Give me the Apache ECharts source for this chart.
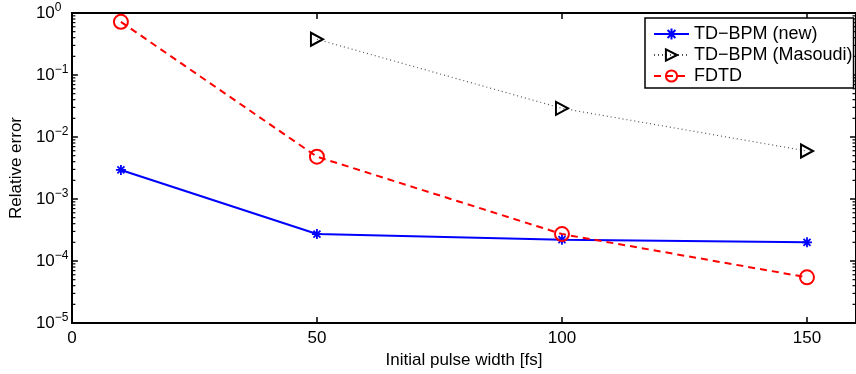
<!DOCTYPE html>
<html>
<head>
<meta charset="utf-8">
<script src="https://cdn.jsdelivr.net/npm/echarts@6/dist/echarts.min.js"></script>
<style>
  html, body { margin: 0; padding: 0; background: #fff; }
  #chart { width: 856px; height: 374px; }
</style>
</head>
<body>
<div id="chart"></div>
<script>
// values
const pulseWidths = [10, 50, 100, 150];
const tdbpmNew = [2.94e-3, 2.72e-4, 2.21e-4, 2.0e-4];
const masoudiWidths = [50, 100, 150];
const tdbpmMasoudi = [0.377, 0.029, 0.00594];
const fdtd = [0.72, 4.81e-3, 2.72e-4, 5.45e-5];
const xTicks = [0, 50, 100, 150];
const decades = [1e-5, 1e-4, 1e-3, 1e-2, 1e-1];
const minorMultipliers = [2, 3, 4, 5, 6, 7, 8, 9];

const FONT = "'Liberation Sans', Arial, Helvetica, sans-serif";
// minor ticks of the log axis (2..9 in every decade)
const minorTicks = [];
decades.forEach(d => minorMultipliers.forEach(m => minorTicks.push([0, d * m])));

const ASTERISK = "path://M5,0L5,10M0,5L10,5M1.5,1.5L8.5,8.5M1.5,8.5L8.5,1.5";
const blackLine = { onZero: false, lineStyle: { color: "#000", width: 2 } };
const tickStyle = { color: "#000", width: 1.5 };

function renderMinorTick(params, api) {
  const p = api.coord([0, api.value(1)]);
  const cs = params.coordSys;
  const len = 3.5;
  const style = { stroke: "#000", lineWidth: 1.2 };
  return {
    type: "group",
    children: [
      { type: "line", shape: { x1: cs.x, y1: p[1], x2: cs.x + len, y2: p[1] }, style },
      { type: "line", shape: { x1: cs.x + cs.width - len, y1: p[1], x2: cs.x + cs.width, y2: p[1] }, style }
    ]
  };
}

const chart = echarts.init(document.getElementById("chart"));
chart.setOption({
  animation: false,
  backgroundColor: "#fff",
  grid: { left: 71, top: 13, width: 787, height: 310 },
  legend: {
    orient: "vertical",
    left: 645,
    top: 18,
    itemWidth: 35,
    itemHeight: 14,
    itemGap: 3,
    padding: [7, 1, 3, 8],
    backgroundColor: "#fff",
    borderColor: "#000",
    borderWidth: 1.5,
    textStyle: { fontSize: 18, color: "#000", fontFamily: FONT },
    data: ["TD\u2212BPM (new)", "TD\u2212BPM (Masoudi)", "FDTD"]
  },
  xAxis: [
    {
      type: "value", min: 0, max: 160, interval: 50, position: "bottom",
      axisLine: blackLine,
      axisTick: { inside: true, length: 6, lineStyle: tickStyle, customValues: xTicks },
      axisLabel: { customValues: xTicks, color: "#000", fontSize: 17, margin: 7, fontFamily: FONT },
      splitLine: { show: false },
      name: "Initial pulse width [fs]", nameLocation: "middle", nameGap: 25,
      nameTextStyle: { fontSize: 17, color: "#000", fontFamily: FONT }
    },
    {
      type: "value", min: 0, max: 160, interval: 50, position: "top",
      axisLine: blackLine,
      axisTick: { inside: true, length: 6, lineStyle: tickStyle, customValues: xTicks },
      axisLabel: { show: false },
      splitLine: { show: false }
    }
  ],
  yAxis: [
    {
      type: "log", logBase: 10, min: 1e-5, max: 1, interval: 1, position: "left",
      axisLine: blackLine,
      axisTick: { inside: true, length: 6, lineStyle: tickStyle },
      axisLabel: {
        align: "left", margin: 36, color: "#000", fontFamily: FONT,
        formatter: v => "{b|10}{s|" + String(Math.round(Math.log10(v))).replace("-", "\u2212") + "}",
        rich: {
          b: { fontSize: 17, fontFamily: FONT, color: "#000" },
          s: { fontSize: 12, fontFamily: FONT, color: "#000", padding: [0, 0, 11, 0] }
        }
      },
      splitLine: { show: false },
      name: "Relative error", nameLocation: "middle", nameGap: 42, nameRotate: 90,
      nameTextStyle: { fontSize: 17, color: "#000", fontFamily: FONT }
    },
    {
      type: "log", logBase: 10, min: 1e-5, max: 1, interval: 1, position: "right",
      axisLine: blackLine,
      axisTick: { inside: true, length: 6, lineStyle: tickStyle },
      axisLabel: { show: false },
      splitLine: { show: false }
    }
  ],
  series: [
    {
      name: "minor ticks", type: "custom", xAxisIndex: 0, yAxisIndex: 0,
      data: minorTicks, renderItem: renderMinorTick, silent: true, clip: false, z: 1
    },
    {
      name: "TD\u2212BPM (new)", type: "line", xAxisIndex: 0, yAxisIndex: 0,
      data: pulseWidths.map((x, i) => [x, tdbpmNew[i]]),
      color: "#0000ff",
      lineStyle: { color: "#0000ff", width: 2 },
      symbol: ASTERISK, symbolSize: 10,
      itemStyle: { color: "#0000ff", borderColor: "#0000ff", borderWidth: 1.8 }
    },
    {
      name: "TD\u2212BPM (Masoudi)", type: "line", xAxisIndex: 0, yAxisIndex: 0,
      data: masoudiWidths.map((x, i) => [x, tdbpmMasoudi[i]]),
      color: "#000",
      lineStyle: { color: "#555", width: 1.2, type: [1, 3] },
      symbol: "triangle", symbolSize: [13, 12], symbolRotate: -90,
      itemStyle: { color: "rgba(0,0,0,0)", borderColor: "#000", borderWidth: 2 }
    },
    {
      name: "FDTD", type: "line", xAxisIndex: 0, yAxisIndex: 0,
      data: pulseWidths.map((x, i) => [x, fdtd[i]]),
      color: "#ff0000",
      lineStyle: { color: "#ff0000", width: 2, type: [7, 5] },
      symbol: "circle", symbolSize: 14,
      itemStyle: { color: "rgba(0,0,0,0)", borderColor: "#ff0000", borderWidth: 2 }
    }
  ]
});
</script>
</body>
</html>
